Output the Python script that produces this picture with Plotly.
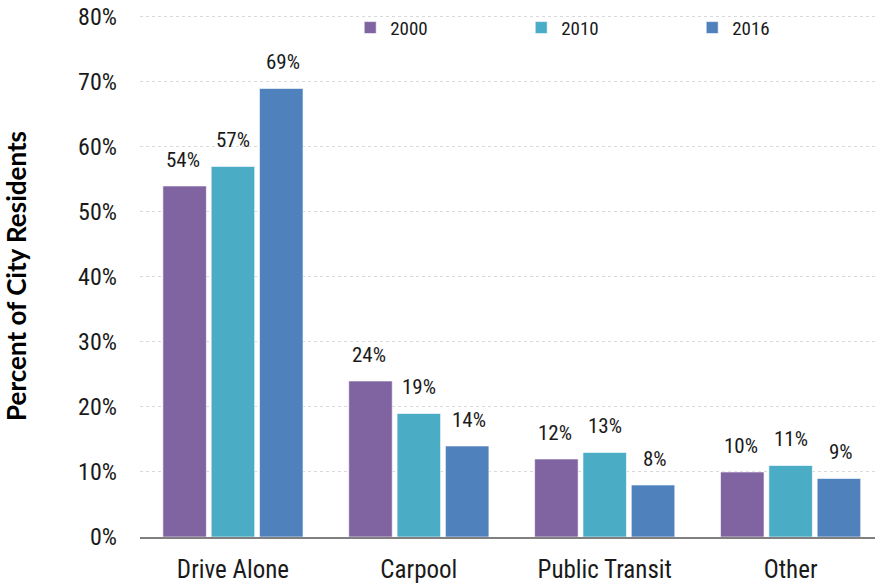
import plotly.graph_objects as go

categories = ["Drive Alone", "Carpool", "Public Transit", "Other"]
years = ["2000", "2010", "2016"]
values_2000 = [54, 24, 12, 10]
values_2010 = [57, 19, 13, 11]
values_2016 = [69, 14, 8, 9]
y_ticks = [0, 10, 20, 30, 40, 50, 60, 70, 80]
y_tick_labels = ["0%", "10%", "20%", "30%", "40%", "50%", "60%", "70%", "80%"]

colors = ["#8064A2", "#4BACC6", "#4F81BD"]
series = [values_2000, values_2010, values_2016]
FONT = "Roboto Condensed, Arial Narrow, sans-serif"
TXT = "#1a1a1a"

fig = go.Figure()
for name, vals, col in zip(years, series, colors):
    fig.add_trace(go.Bar(
        x=categories, y=vals, name=name,
        marker=dict(color=col, line=dict(color="rgba(255,255,255,0.6)", width=1)),
    ))

shifts = [-50, 0, 50]
for vals, sh in zip(series, shifts):
    for c, v in zip(categories, vals):
        fig.add_annotation(x=c, y=v, xref="x", yref="y", text=f"{v}%",
                           showarrow=False, xshift=sh, yshift=12, yanchor="bottom",
                           font=dict(family=FONT, size=21, color=TXT))

fig.update_layout(
    width=875, height=583,
    margin=dict(l=140, r=0, t=15, b=46),
    paper_bgcolor="white", plot_bgcolor="white",
    barmode="group", bargap=0.22, bargroupgap=0.1,
    font=dict(family=FONT, color=TXT),
    legend=dict(orientation="h", x=0.286, y=1.012, xanchor="left", yanchor="top",
                entrywidth=126, font=dict(family=FONT, size=19, color=TXT),
                bgcolor="rgba(0,0,0,0)"),
    showlegend=True,
)
fig.update_yaxes(range=[0, 80.3], tickvals=y_ticks, ticktext=y_tick_labels,
                 showgrid=True, gridcolor="#d9d9d9", griddash="dot", gridwidth=1,
                 zeroline=False, showline=False, automargin=False,
                 ticklabeloverflow="allow",
                 tickfont=dict(family=FONT, size=24, color=TXT),
                 ticklabelstandoff=22,
                 title=dict(text="<b>Percent of City Residents</b>",
                            font=dict(family="Lato, sans-serif", size=26, color="#000000"),
                            standoff=49))
fig.update_xaxes(range=[-0.5, 3.454], showline=True, linecolor="#808080", linewidth=2,
                 automargin=False,
                 tickfont=dict(family=FONT, size=25, color=TXT),
                 ticklabelstandoff=9)

# remove the default page margin so the figure fills the window exactly
fig.write_html("out.html", config={"displayModeBar": False},
               post_script="document.body.style.margin='0';")
